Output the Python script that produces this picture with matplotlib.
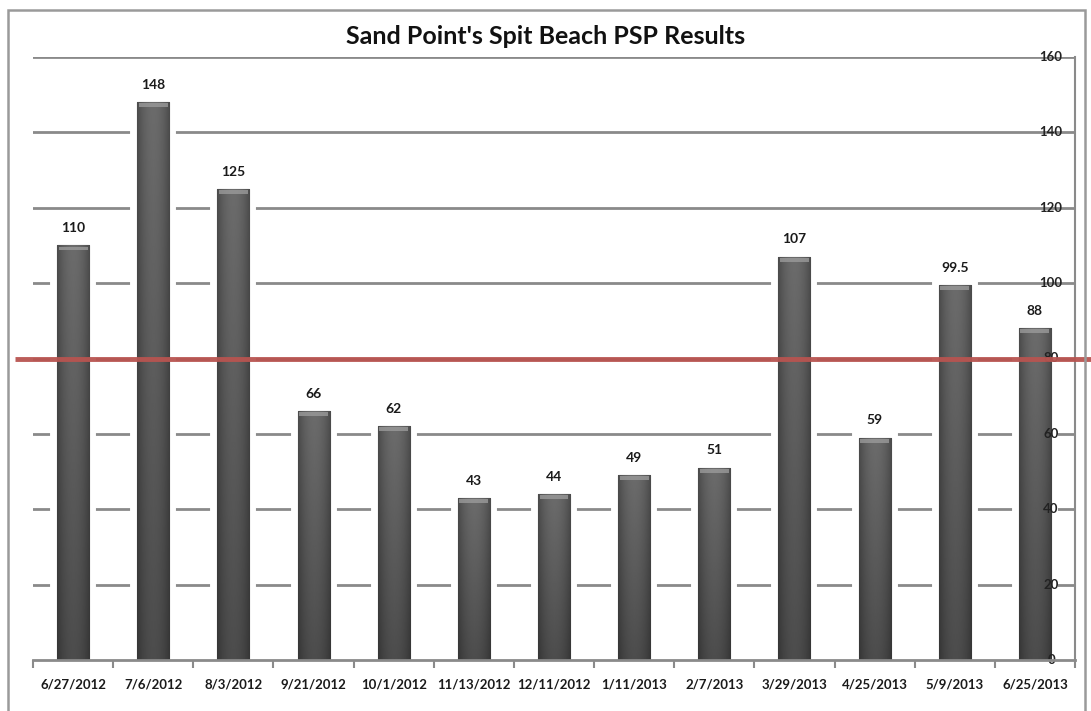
import matplotlib
matplotlib.use("Agg")
import matplotlib.pyplot as plt
import matplotlib.transforms as mtransforms
from matplotlib.patches import Rectangle
import numpy as np

dates = ["6/27/2012", "7/6/2012", "8/3/2012", "9/21/2012", "10/1/2012", "11/13/2012",
         "12/11/2012", "1/11/2013", "2/7/2013", "3/29/2013", "4/25/2013", "5/9/2013", "6/25/2013"]
psp = [110, 148, 125, 66, 62, 43, 44, 49, 51, 107, 59, 99.5, 88]
value_labels = ["110", "148", "125", "66", "62", "43", "44", "49", "51", "107", "59", "99.5", "88"]
limit = 80
yticks = [0, 20, 40, 60, 80, 100, 120, 140, 160]
title = "Sand Point's Spit Beach PSP Results"

plt.rcParams['font.family'] = ['Lato', 'DejaVu Sans']

fig = plt.figure(figsize=(10.91, 7.11), dpi=100)
fig.patch.set_facecolor('white')
ax = fig.add_axes([33/1091, 1-660/711, (1075-33)/1091, (660-57)/711])
ax.set_xlim(-0.5, len(dates) - 0.5)
ax.set_ylim(0, 160)

# outer frame
fig.patches.append(Rectangle((8/1091, -0.05), (1085-8)/1091, 1.05 - 10/711,
                             transform=fig.transFigure, fill=False,
                             edgecolor='#9a9a9a', lw=1.8, zorder=0))

# gridlines
for t in yticks[1:]:
    ax.axhline(t, color='#8a8a8a', lw=2.0, zorder=1)

x = np.arange(len(dates))
w = 0.4
# white halo behind bars
ax.bar(x, psp, width=w, color='white', edgecolor='white', lw=10, zorder=2)
bars = ax.bar(x, psp, width=w, color='#5a5a5a', edgecolor='#444444', lw=0.8, zorder=3)

# shading gradient
gx = np.linspace(-1, 1, 64)
horiz = 1 - 0.3 * gx**2
for b in bars:
    h = b.get_height()
    gy = np.linspace(0, 1, 64)[:, None]
    shade = (0.30 + 0.12 * gy) * horiz[None, :]
    im = ax.imshow(shade, cmap='gray', vmin=0, vmax=1, origin='lower',
                   extent=[b.get_x(), b.get_x() + b.get_width(), 0, h],
                   aspect='auto', zorder=3.5, interpolation='bilinear')
    im.set_clip_path(b)
    # top bevel
    ax.bar(b.get_x() + b.get_width()/2, 1.0, width=b.get_width()*0.9,
           bottom=h - 1.3, color='#9a9a9a', lw=0, zorder=3.6, alpha=0.8)

for xi, v, lab in zip(x, psp, value_labels):
    ax.text(xi, v + 3, lab, ha='center', va='bottom', fontsize=10,
            fontweight='bold', color='#1a1a1a', zorder=5)

# y tick labels drawn inside, on the right
ytrans = mtransforms.blended_transform_factory(ax.transAxes, ax.transData)
for t in yticks:
    ax.text(0.977, t, str(t), transform=ytrans, ha='center', va='center',
            fontsize=9.5, fontweight='bold', color='#222222', zorder=4)

# limit line
ftrans = mtransforms.blended_transform_factory(fig.transFigure, ax.transData)
ax.plot([15/1091, 1.0], [limit, limit], transform=ftrans, color='#b85450',
        lw=3.5, solid_capstyle='butt', clip_on=False, zorder=6, alpha=0.95)

ax.set_xticks(np.arange(len(dates) + 1) - 0.5, minor=True)
ax.set_xticks(x)
ax.set_xticklabels(dates, fontsize=9.5, fontweight='bold', color='#1a1a1a')
ax.tick_params(axis='x', which='major', length=0, pad=13)
ax.tick_params(axis='x', which='minor', length=6, width=1.5, color='#8a8a8a', direction='out')
ax.set_yticks([])
for s in ['left', 'top']:
    ax.spines[s].set_visible(False)
ax.spines['right'].set_color('#8a8a8a')
ax.spines['right'].set_linewidth(1.5)
ax.spines['bottom'].set_color('#8a8a8a')
ax.spines['bottom'].set_linewidth(2)
ax.spines['bottom'].set_zorder(7)

fig.text(0.5, 1 - 37/711, title, ha='center', va='center', fontsize=18,
         fontweight='bold', color='#111111')

fig.savefig('out.png', dpi=100, facecolor='white')
